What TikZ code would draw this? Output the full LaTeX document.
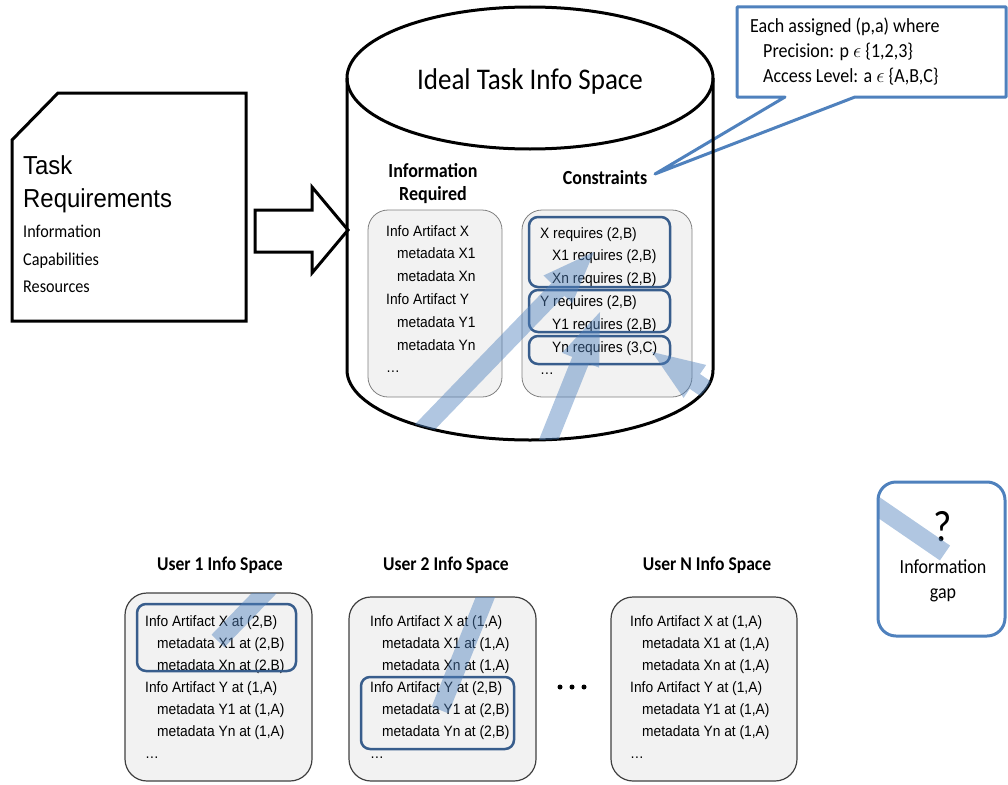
\documentclass[tikz,border=0pt]{standalone}
\usepackage{fontspec}
\setmainfont[FakeStretch=0.9]{Carlito}
\newfontfamily\arialfont[FakeStretch=0.92]{Liberation Sans}
\usetikzlibrary{calc}

\definecolor{boxgray}{RGB}{242,242,242}
\definecolor{hlblue}{RGB}{56,93,140}
\definecolor{callblue}{RGB}{79,129,189}

\tikzset{
  listtxt/.style={font=\arialfont\fontsize{15}{18}\selectfont, inner sep=0pt, anchor=base west},
  doctxt/.style={font=\fontsize{18}{22}\selectfont, inner sep=0pt, anchor=base west},
  calltxt/.style={font=\fontsize{20}{24}\selectfont, inner sep=0pt, anchor=base west},
  gaptxt/.style={font=\fontsize{20}{24}\selectfont, inner sep=0pt, anchor=base},
  titletxt/.style={font=\bfseries\fontsize{20}{24}\selectfont, inner sep=0pt, anchor=base},
  usertxt/.style={font=\bfseries\fontsize{19.5}{23}\selectfont, inner sep=0pt, anchor=base},
  listbox/.style={fill=boxgray, draw=black!50, line width=0.8pt, rounded corners=20pt},
  userbox/.style={fill=boxgray, draw=black!75, line width=1.2pt, rounded corners=22pt},
  hlbox/.style={draw=hlblue, line width=2.5pt, rounded corners=9pt},
  flow/.style={fill=callblue, fill opacity=0.45},
}

% 宽箭头: #1 尾部, #2 箭尖
\newcommand{\flowarrow}[2]{%
  \path (#1) coordinate (fa-t) (#2) coordinate (fa-p)
    ($(fa-p)!52pt!(fa-t)$) coordinate (fa-b);
  \fill[flow] ($(fa-t)!9pt!90:(fa-p)$) -- ($(fa-b)!9pt!90:(fa-p)$)
    -- ($(fa-b)!20pt!90:(fa-p)$) -- (fa-p) -- ($(fa-b)!20pt!-90:(fa-p)$)
    -- ($(fa-b)!9pt!-90:(fa-p)$) -- ($(fa-t)!9pt!-90:(fa-p)$) -- cycle;
}
\newcommand{\flowarrows}{\flowarrow{f1s}{f1e}\flowarrow{f2s}{f2e}\flowarrow{f3s}{f3e}}

\begin{document}
\begin{tikzpicture}[x=1pt, y=-1pt, >=stealth]
\useasboundingbox (0,0) rectangle (1008,784);

% 任务需求文档
\draw[line width=3pt] (12,140) -- (58,93) -- (246,93) -- (246,321) -- (12,321) -- cycle;
\node[inner sep=0pt, anchor=base west, font=\arialfont\fontsize{26}{30}\selectfont] (task) at (23,174) {Task};
\node[inner sep=0pt, anchor=base west, font=\arialfont\fontsize{26}{30}\selectfont] (taskreq) at (23,207) {Requirements};
\node[doctxt] (d1) at (23,237) {Information};
\node[doctxt] (d2) at (23,265) {Capabilities};
\node[doctxt] (d3) at (23,292) {Resources};

% 空心粗箭头
\draw[line width=3pt, fill=white] (255,210) -- (312,210) -- (312,187) -- (348,230)
  -- (312,273) -- (312,252) -- (255,252) -- cycle;

% 说明框
\coordinate (ptr) at (655,174);
\draw[callblue, line width=3pt, fill=white, line join=round] (737,7) -- (1006,7) -- (1006,97)
  -- (855,97) -- (ptr) -- (785,97) -- (737,97) -- cycle;
\node[calltxt] (c1) at (750,33) {Each assigned (p,a) where};
\node[calltxt] (c2) at (763,57) {Precision: p $\epsilon$ \{1,2,3\}};
\node[calltxt] (c3) at (763,82) {Access Level: a $\epsilon$ \{A,B,C\}};

% 圆柱
\draw[line width=3pt] (347,78) -- (347,370) arc[start angle=180, end angle=0, x radius=183, y radius=70] -- (713,78);
\draw[line width=3pt] (530,78) ellipse [x radius=183, y radius=71];
\node[inner sep=0pt, anchor=base, font=\fontsize{30}{36}\selectfont] (ideal) at (530,89) {Ideal Task Info Space};

\node[titletxt] (irq1) at (433,177) {Information};
\node[titletxt] (irq2) at (433,200) {Required};
\node[titletxt] (constr) at (605,184) {Constraints};

\draw[listbox] (368,210) rectangle (502,397);
\draw[listbox] (522,210) rectangle (692,397);

\foreach \i/\dx/\t in {0/0/Info Artifact X, 1/11/metadata X1, 2/11/metadata Xn,
    3/0/Info Artifact Y, 4/11/metadata Y1, 5/11/metadata Yn, 6/0/{\ldots}}
  \node[listtxt] (ir\i) at (386+\dx, 236+22.8*\i) {\t};

\foreach \i/\dx/\t in {0/0/{X requires (2,B)}, 1/12/{X1 requires (2,B)}, 2/12/{Xn requires (2,B)},
    3/0/{Y requires (2,B)}, 4/12/{Y1 requires (2,B)}, 5/12/{Yn requires (3,C)}, 6/0/{\ldots}}
  \node[listtxt] (cr\i) at (540+\dx, 238+22.8*\i) {\t};

\draw[hlbox] (529,217) rectangle (670,287);
\draw[hlbox] (529,290) rectangle (670,332);
\draw[hlbox] (529,336) rectangle (670,364);

% 用户信息空间
\node[usertxt] (ut1) at (220,570) {User 1 Info Space};
\node[usertxt] (ut2) at (446,570) {User 2 Info Space};
\node[usertxt] (utn) at (707,570) {User N Info Space};

\draw[userbox] (125,593) rectangle (312,781);
\draw[userbox] (349,597) rectangle (536,781);
\draw[userbox] (611,597) rectangle (797,781);

\foreach \k/\xo/\xa/\ya in {1/145/{(2,B)}/{(1,A)}, 2/370/{(1,A)}/{(2,B)}, n/630/{(1,A)}/{(1,A)}} {
  \node[listtxt] (u\k-0) at (\xo,626) {Info Artifact X at \xa};
  \node[listtxt] (u\k-1) at (\xo+12,648) {metadata X1 at \xa};
  \node[listtxt] (u\k-2) at (\xo+12,670) {metadata Xn at \xa};
  \node[listtxt] (u\k-3) at (\xo,692) {Info Artifact Y at \ya};
  \node[listtxt] (u\k-4) at (\xo+12,714) {metadata Y1 at \ya};
  \node[listtxt] (u\k-5) at (\xo+12,736) {metadata Yn at \ya};
  \node[listtxt] (u\k-6) at (\xo,758) {\ldots};
}

\draw[hlbox] (137,604) rectangle (296,671);
\draw[hlbox] (361,677) rectangle (514,749);

\foreach \x in {560,572,584} \fill (\x,687) circle (2.5);

% 信息缺口
\draw[callblue, line width=3pt, rounded corners=18pt] (878,482) rectangle (1005,636);
\node[inner sep=0pt, anchor=base, font=\fontsize{44}{50}\selectfont] (qm) at (943,541) {?};
\node[gaptxt] (gap1) at (943,573) {Information};
\node[gaptxt] (gap2) at (943,598) {gap};

% 映射箭头, 只在各框内可见
\coordinate (f1s) at (218,641); \coordinate (f1e) at (594,252);
\coordinate (f2s) at (440,710); \coordinate (f2e) at (600,312);
\coordinate (f3s) at (945,553); \coordinate (f3e) at (652,352);
\begin{scope}
  \clip (347,78) -- (347,370) arc[start angle=180, end angle=0, x radius=183, y radius=70] -- (713,78) -- cycle;
  \flowarrows
\end{scope}
\begin{scope}
  \clip[rounded corners=22pt] (125,593) rectangle (312,781);
  \flowarrows
\end{scope}
\begin{scope}
  \clip[rounded corners=22pt] (349,597) rectangle (536,781);
  \flowarrows
\end{scope}
\begin{scope}
  \clip[rounded corners=18pt] (878,482) rectangle (1005,636);
  \flowarrows
\end{scope}
\end{tikzpicture}
\end{document}
